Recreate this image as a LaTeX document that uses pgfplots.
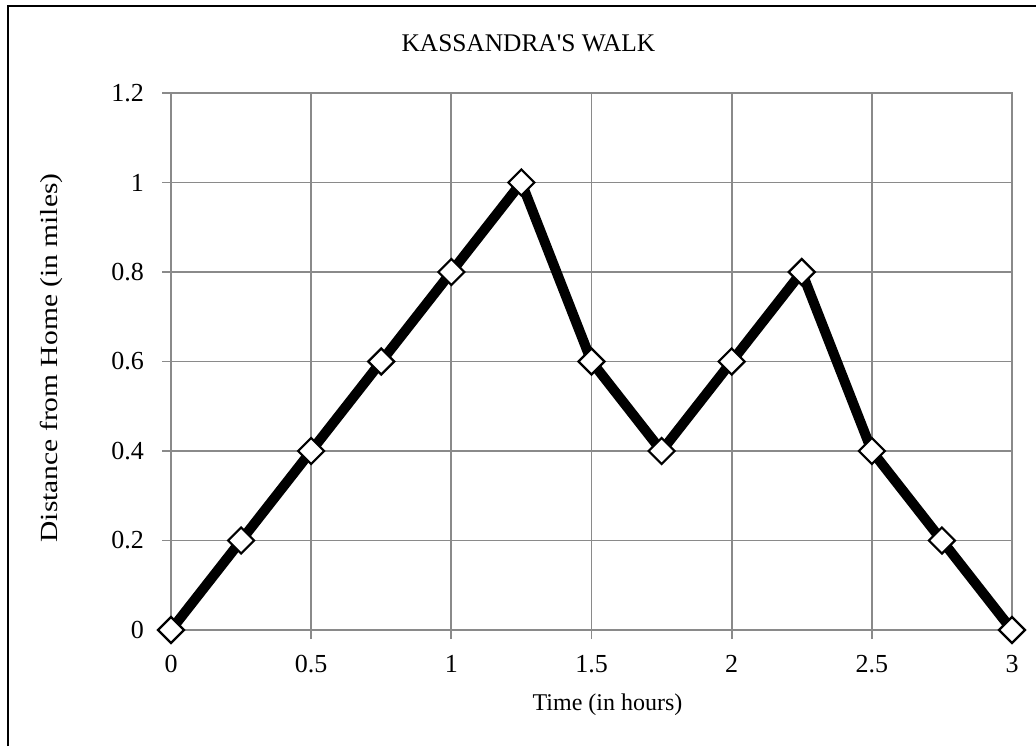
\documentclass[border=0pt]{standalone}
\usepackage{pgfplots}
\pgfplotsset{compat=1.18}
\usepackage{fontspec}
\setmainfont{Liberation Serif}
\newfontfamily\ylabfont{Liberation Serif}[FakeStretch=1.2]
\newfontfamily\plainfont{Liberation Serif}[Ligatures=TeXOff]
\definecolor{gridc}{RGB}{138,138,138}
\begin{document}
\begin{tikzpicture}
\path[use as bounding box] (0,0) rectangle (518pt,373pt);
\draw[line width=1.3pt] (4pt,0pt) -- (4pt,370pt) -- (518pt,370pt);
\begin{axis}[
  at={(85.5pt,58pt)}, anchor=south west,
  scale only axis, width=420.5pt, height=268.5pt,
  xmin=0, xmax=3, ymin=0, ymax=1.2,
  xtick={0,0.5,...,3}, ytick={0,0.2,...,1.2},
  grid=major,
  major grid style={draw=gridc, line width=0.9pt},
  axis line style={draw=gridc, line width=0.9pt},
  tick style={draw=gridc, line width=0.9pt},
  tick align=outside, major tick length=4.5pt,
  xtick pos=bottom, ytick pos=left,
  /pgf/number format/assume math mode=true,
  tick label style={font=\fontsize{13}{15}\selectfont},
  yticklabel style={xshift=-5.5pt},
  xticklabel style={yshift=-4.5pt},
  clip=false,
]
\addplot[black, line width=5pt, mark=square*, mark size=4.6pt,
  mark options={rotate=45, fill=white, draw=black, line width=1.1pt}]
  coordinates {
  (0,0) (0.25,0.2) (0.5,0.4) (0.75,0.6) (1,0.8) (1.25,1)
  (1.5,0.6) (1.75,0.4) (2,0.6) (2.25,0.8) (2.5,0.4) (2.75,0.2) (3,0)
  };
\end{axis}
\node[font=\plainfont\fontsize{12.7}{15}\selectfont] at (264.2pt,351.25pt) {KASSANDRA'S WALK};
\node[font=\fontsize{12}{14}\selectfont] at (303.75pt,20.5pt) {Time (in hours)};
\node[font=\ylabfont\fontsize{12.3}{14}\selectfont, rotate=90] at (25.5pt,194pt) {Distance from Home (in miles)};
\end{tikzpicture}
\end{document}
